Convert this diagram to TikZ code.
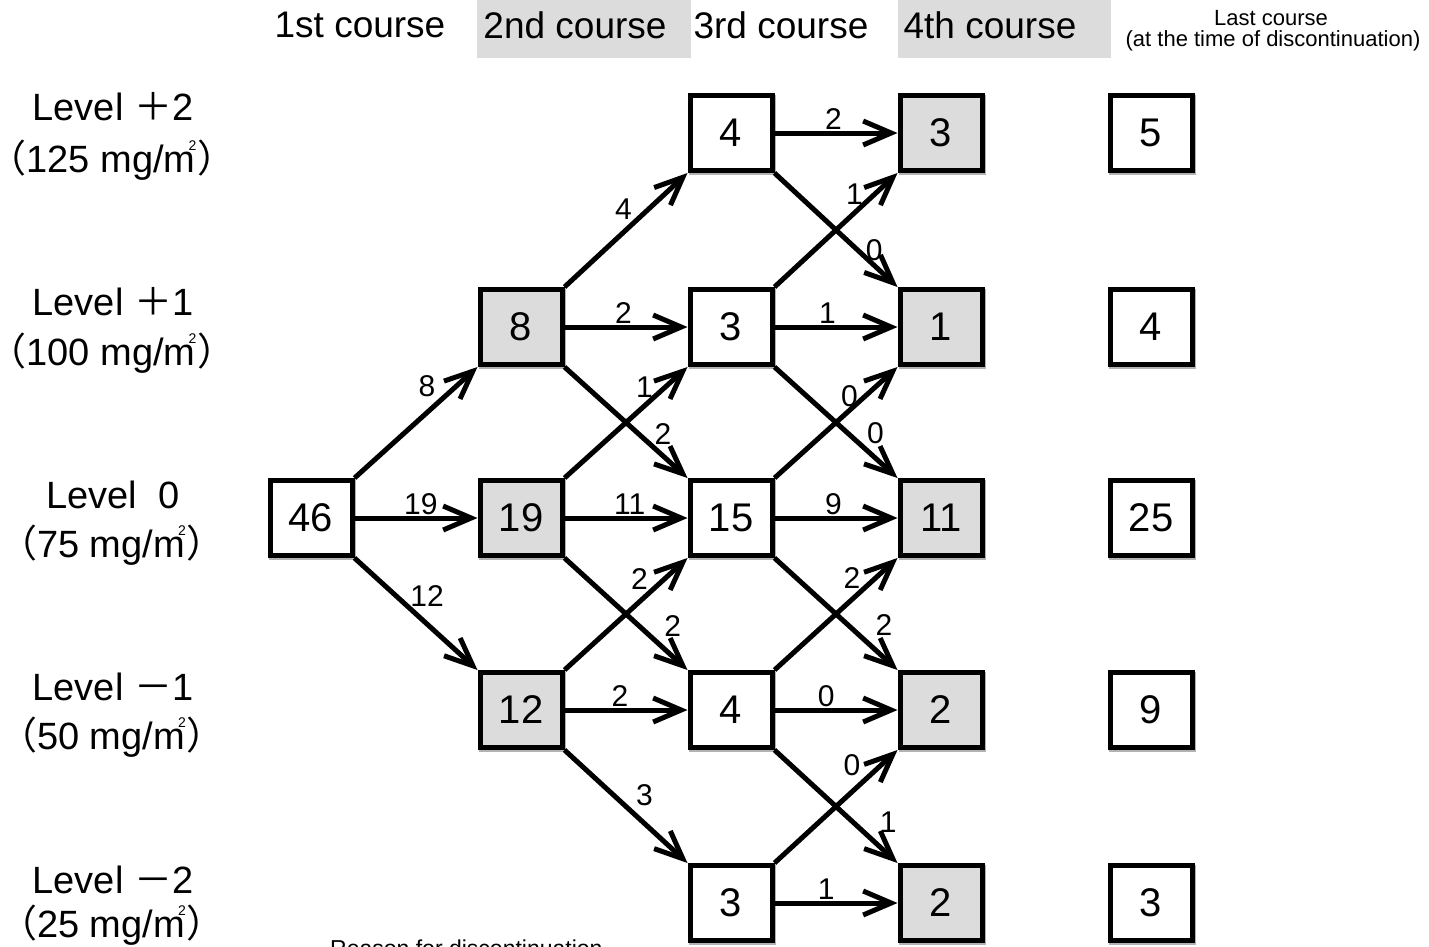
\documentclass[tikz,border=0pt]{standalone}
\usepackage{fontspec}
\setmainfont{Liberation Sans}
\newfontfamily\jp{Noto Sans CJK JP}
\usetikzlibrary{arrows.meta}
\definecolor{boxgray}{RGB}{220,220,220}
\newcommand\msq{m\kern-7pt\raisebox{22pt}{\fontsize{14}{14}\selectfont 2}\kern1pt}
\tikzset{
  bx/.style={draw, fill=white, line width=5pt, minimum width=82pt, minimum height=75pt, inner sep=0pt, font=\fontsize{40}{42}\selectfont,
    preaction={draw=black!30, line width=5pt, transform canvas={xshift=1.5pt,yshift=-1.5pt}}},
  gbx/.style={bx, fill=boxgray},
  arr/.style={line width=5pt, -{Straight Barb[length=28pt,width=24pt]}},
  lab/.style={font=\fontsize{30}{31}\selectfont, inner sep=0pt},
  hd/.style={font=\fontsize{37}{39}\selectfont, inner sep=0pt},
  sm/.style={font=\fontsize{22}{24}\selectfont, inner sep=0pt},
  lvl/.style={font=\fontsize{38}{40}\selectfont, inner sep=0pt},
}
\begin{document}
\begin{tikzpicture}[x=1pt,y=-1pt]
\useasboundingbox (0,0) rectangle (1429,946);
% header
\fill[boxgray] (477,0) rectangle (691,58);
\fill[boxgray] (898,0) rectangle (1111,58);
\node[hd] (h1) at (360,25) {1st course};
\node[hd] (h2) at (575,25) {2nd course};
\node[hd] (h3) at (781,25) {3rd course};
\node[hd] (h4) at (990,25) {4th course};
\node[sm] (h5) at (1271,18) {Last course};
\node[sm] (h5b) at (1273,41) {(at the time of discontinuation)};
% level labels
\node[lvl] (lv2) at (113,107) {Level {\jp ＋}2};
\node[lvl] (lv2d) at (112,160) {{\jp （}125 mg/\msq{\jp ）}};
\node[lvl] (lv1) at (113,302) {Level {\jp ＋}1};
\node[lvl] (lv1d) at (112,353) {{\jp （}100 mg/\msq{\jp ）}};
\node[lvl] (lv0) at (113,495) {Level\ \ 0};
\node[lvl] (lv0d) at (112,545) {{\jp （}75 mg/\msq{\jp ）}};
\node[lvl] (lvm1) at (113,687) {Level {\jp －}1};
\node[lvl] (lvm1d) at (112,737) {{\jp （}50 mg/\msq{\jp ）}};
\node[lvl] (lvm2) at (113,880) {Level {\jp －}2};
\node[lvl] (lvm2d) at (112,925) {{\jp （}25 mg/\msq{\jp ）}};
% boxes
\node[bx] (n46) at (311,518) {46};
\node[gbx] (a8) at (521,327) {8};
\node[gbx] (b19) at (521,518) {19};
\node[gbx] (c12) at (521,710) {12};
\node[bx] (t4) at (731,133) {4};
\node[bx] (t3) at (731,327) {3};
\node[bx] (t15) at (731,518) {15};
\node[bx] (t4m) at (731,710) {4};
\node[bx] (t3b) at (731,903) {3};
\node[gbx] (f3) at (941,133) {3};
\node[gbx] (f1) at (941,327) {1};
\node[gbx] (f11) at (941,518) {11};
\node[gbx] (f2a) at (941,710) {2};
\node[gbx] (f2b) at (941,903) {2};
\node[bx] (l5) at (1151,133) {5};
\node[bx] (l4) at (1151,327) {4};
\node[bx] (l25) at (1151,518) {25};
\node[bx] (l9) at (1151,710) {9};
\node[bx] (l3) at (1151,903) {3};
% col1 -> col2
\draw[arr] (n46.north east) -- node[lab,pos=.59,yshift=26pt]{8} (a8.south west);
\draw[arr] (n46.east) -- node[lab,pos=.54,yshift=14pt]{19} (b19.west);
\draw[arr] (n46.south east) -- node[lab,pos=.59,yshift=28pt]{12} (c12.north west);
% col2 -> col3
\draw[arr] (a8.north east) -- node[lab,pos=.48,yshift=23pt]{4} (t4.south west);
\draw[arr] (a8.east) -- node[lab,pos=.48,yshift=14pt]{2} (t3.west);
\draw[arr] (a8.south east) -- node[lab,pos=.80,yshift=22pt]{2} (t15.north west);
\draw[arr] (b19.north east) -- node[lab,pos=.65,yshift=19pt]{1} (t3.south west);
\draw[arr] (b19.east) -- node[lab,pos=.53,yshift=14pt]{11} (t15.west);
\draw[arr] (b19.south east) -- node[lab,pos=.88,yshift=31pt]{2} (t4m.north west);
\draw[arr] (c12.north east) -- node[lab,pos=.61,yshift=23pt]{2} (t15.south west);
\draw[arr] (c12.east) -- node[lab,pos=.45,yshift=14pt]{2} (t4m.west);
\draw[arr] (c12.south east) -- node[lab,pos=.65,yshift=28pt]{3} (t3b.north west);
% col3 -> col4
\draw[arr] (t4.east) -- node[lab,pos=.48,yshift=14pt]{2} (f3.west);
\draw[arr] (t4.south east) -- node[lab,pos=.81,yshift=15pt]{0} (f1.north west);
\draw[arr] (t3.north east) -- node[lab,pos=.65,yshift=19pt]{1} (f3.south west);
\draw[arr] (t3.east) -- node[lab,pos=.43,yshift=14pt]{1} (f1.west);
\draw[arr] (t3.south east) -- node[lab,pos=.82,yshift=25pt]{0} (f11.north west);
\draw[arr] (t15.north east) -- node[lab,pos=.61,yshift=14pt]{0} (f1.south west);
\draw[arr] (t15.east) -- node[lab,pos=.48,yshift=14pt]{9} (f11.west);
\draw[arr] (t15.south east) -- node[lab,pos=.89,yshift=33pt]{2} (f2a.north west);
\draw[arr] (t4m.north east) -- node[lab,pos=.63,yshift=21pt]{2} (f11.south west);
\draw[arr] (t4m.east) -- node[lab,pos=.42,yshift=14pt]{0} (f2a.west);
\draw[arr] (t4m.south east) -- node[lab,pos=.925,yshift=32pt]{1} (f2b.north west);
\draw[arr] (t3b.north east) -- node[lab,pos=.63,yshift=27pt]{0} (f2a.south west);
\draw[arr] (t3b.east) -- node[lab,pos=.42,yshift=14pt]{1} (f2b.west);
% bottom caption (cut off)
\node[font=\fontsize{23}{25}\selectfont, inner sep=0pt, anchor=base west] (rs) at (330,956) {Reason for discontinuation};
\end{tikzpicture}
\end{document}
